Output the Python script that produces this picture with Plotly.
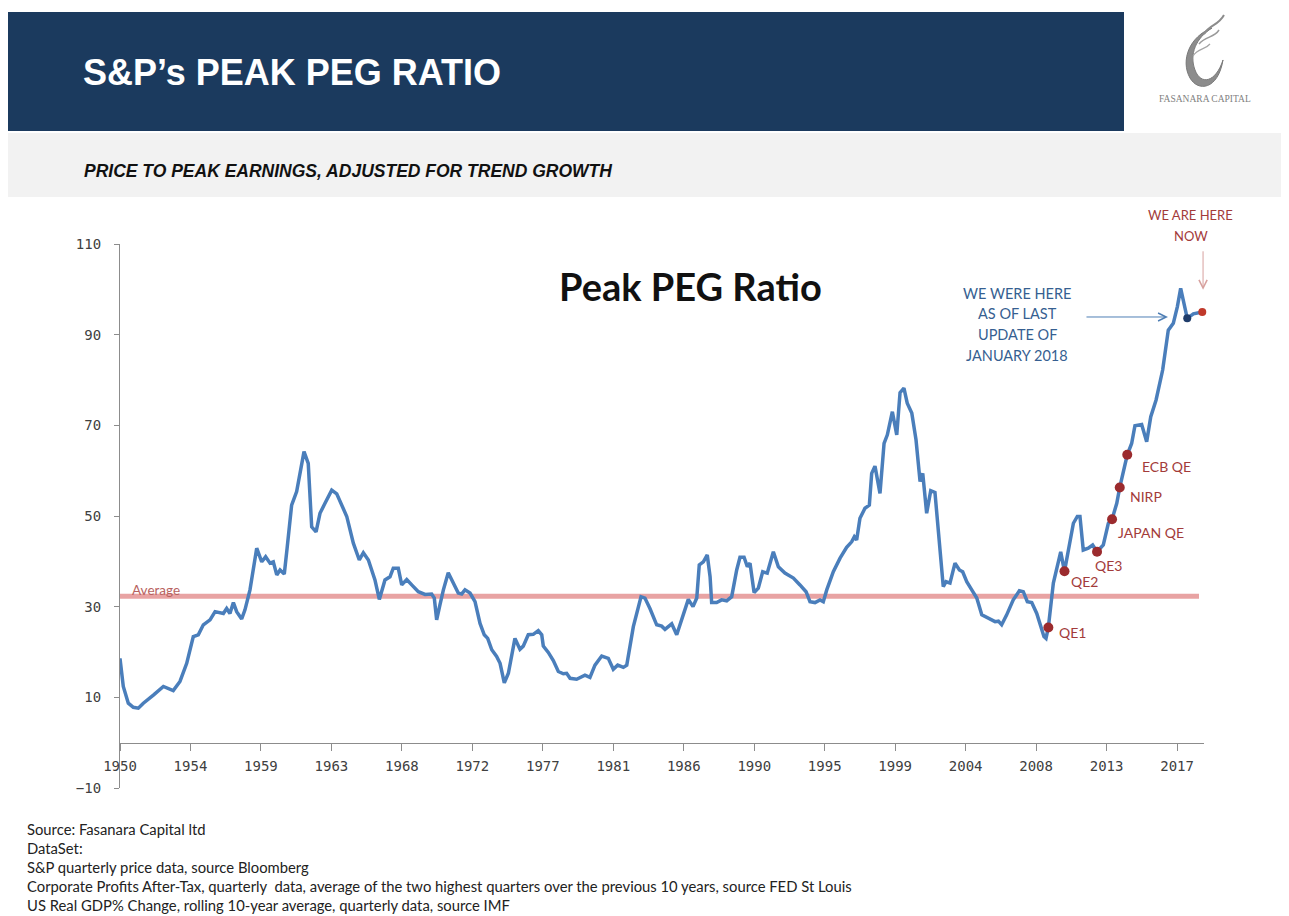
import plotly.graph_objects as go

# ---------------- data ----------------
years = [
    1950.00, 1950.21, 1950.53, 1950.85, 1951.17, 1951.49, 1952.13, 1952.77, 1953.40, 1953.83,
    1954.26, 1954.68, 1955.00, 1955.32, 1955.75, 1956.07, 1956.60, 1956.81, 1957.02, 1957.24,
    1957.45, 1957.77, 1957.98, 1958.30, 1958.73, 1959.05, 1959.30, 1959.58, 1959.79, 1960.01,
    1960.22, 1960.49, 1960.68, 1960.96, 1961.28, 1961.75, 1962.02, 1962.24, 1962.52, 1962.77,
    1963.09, 1963.52, 1963.84, 1964.48, 1964.90, 1965.28, 1965.54, 1965.86, 1966.28, 1966.56,
    1966.92, 1967.24, 1967.45, 1967.77, 1967.99, 1968.31, 1968.63, 1969.05, 1969.48, 1969.90,
    1970.07, 1970.22, 1970.43, 1970.65, 1970.96, 1971.28, 1971.60, 1971.82, 1972.03, 1972.35,
    1972.67, 1972.99, 1973.26, 1973.48, 1973.74, 1974.05, 1974.27, 1974.54, 1974.80, 1975.22,
    1975.54, 1975.75, 1976.07, 1976.39, 1976.71, 1976.93, 1977.03, 1977.35, 1977.67, 1977.99,
    1978.31, 1978.52, 1978.74, 1979.16, 1979.48, 1979.69, 1980.01, 1980.33, 1980.76, 1981.18,
    1981.50, 1981.78, 1982.14, 1982.36, 1982.78, 1983.27, 1983.52, 1983.84, 1984.27, 1984.59,
    1984.80, 1985.23, 1985.55, 1985.87, 1986.29, 1986.59, 1986.83, 1986.99, 1987.25, 1987.50,
    1987.68, 1987.78, 1988.10, 1988.42, 1988.74, 1989.06, 1989.38, 1989.59, 1989.85, 1990.06,
    1990.23, 1990.49, 1990.76, 1991.04, 1991.33, 1991.72, 1992.04, 1992.46, 1993.00, 1993.42,
    1993.81, 1994.06, 1994.38, 1994.70, 1994.91, 1995.13, 1995.55, 1995.98, 1996.40, 1996.72,
    1996.89, 1997.04, 1997.25, 1997.57, 1997.85, 1998.00, 1998.21, 1998.53, 1998.79, 1999.00,
    1999.32, 1999.60, 1999.81, 2000.06, 2000.27, 2000.56, 2000.83, 2001.09, 2001.26, 2001.51,
    2001.77, 2002.04, 2002.25, 2002.57, 2002.75, 2003.00, 2003.32, 2003.60, 2003.81, 2004.07,
    2004.39, 2004.71, 2005.03, 2005.45, 2005.88, 2006.09, 2006.30, 2006.62, 2007.04, 2007.43,
    2007.68, 2007.94, 2008.22, 2008.54, 2008.75, 2009.00, 2009.13, 2009.28, 2009.60, 2009.92,
    2010.07, 2010.31, 2010.56, 2010.88, 2011.13, 2011.30, 2011.51, 2011.83, 2012.11, 2012.39,
    2012.79, 2013.11, 2013.35, 2013.65, 2013.84, 2014.32, 2014.60, 2014.81, 2015.24, 2015.56,
    2015.82, 2016.16, 2016.58, 2016.94, 2017.26, 2017.52, 2017.73, 2017.94, 2018.15, 2018.54,
    2018.86, 2019.11,
]

peg_ratio = [
    18.6, 12.4, 8.7, 7.8, 7.6, 8.7, 10.5, 12.4, 11.5, 13.5,
    17.5, 23.4, 23.8, 26.0, 27.1, 28.9, 28.5, 29.6, 28.5, 30.9,
    28.9, 27.3, 29.3, 33.7, 42.9, 39.9, 41.0, 39.6, 39.9, 37.0,
    38.1, 37.2, 43.2, 52.4, 55.4, 64.2, 61.6, 47.6, 46.5, 50.6,
    52.8, 55.7, 54.9, 49.9, 44.0, 40.3, 41.9, 40.3, 35.9, 31.6,
    35.9, 36.6, 38.5, 38.5, 34.8, 36.0, 34.8, 33.3, 32.7, 32.8,
    31.9, 27.1, 30.4, 33.7, 37.5, 35.2, 33.0, 32.8, 33.7, 33.0,
    31.1, 26.3, 23.8, 23.0, 20.5, 19.0, 17.5, 13.2, 15.3, 23.0,
    20.6, 21.3, 23.8, 23.9, 24.7, 23.8, 21.3, 19.9, 18.1, 15.7,
    15.2, 15.3, 14.2, 14.0, 14.6, 14.9, 14.4, 17.1, 19.1, 18.6,
    16.2, 17.1, 16.6, 17.1, 25.6, 32.2, 31.9, 29.6, 26.0, 25.7,
    25.0, 26.2, 23.8, 27.1, 31.6, 30.0, 31.9, 39.2, 39.9, 41.4,
    36.6, 30.9, 30.9, 31.5, 31.3, 32.2, 38.1, 40.9, 40.9, 38.8,
    39.6, 33.1, 34.1, 37.7, 37.4, 42.1, 38.8, 37.4, 36.3, 34.8,
    33.3, 31.1, 30.9, 31.5, 31.1, 33.7, 37.7, 40.7, 43.1, 44.3,
    45.4, 44.7, 49.5, 51.7, 52.4, 59.4, 61.0, 55.0, 66.0, 67.9,
    73.0, 67.9, 77.2, 78.2, 74.9, 72.7, 66.8, 57.6, 59.4, 50.6,
    55.6, 55.2, 46.9, 34.4, 35.5, 35.2, 39.6, 38.1, 37.7, 35.5,
    33.7, 31.9, 28.2, 27.4, 26.7, 26.8, 26.0, 28.2, 31.5, 33.5,
    33.3, 31.1, 30.9, 28.5, 26.0, 23.4, 23.0, 25.4, 35.2, 39.6,
    42.1, 37.8, 42.5, 48.4, 49.9, 49.9, 42.5, 42.9, 43.6, 42.1,
    43.6, 48.4, 49.3, 52.8, 56.3, 63.5, 66.0, 69.9, 70.2, 66.4,
    71.9, 75.6, 82.2, 91.0, 92.5, 96.2, 100.2, 96.9, 93.6, 94.6,
    94.9, 95.0,
]

average_value = 32.3

event_names = ["QE1", "QE2", "QE3", "JAPAN QE", "NIRP", "ECB QE"]
event_years = [2009.28, 2010.31, 2012.39, 2013.35, 2013.84, 2014.32]
event_values = [25.4, 37.8, 42.1, 49.3, 56.3, 63.5]
# label offsets in pixels (dx, dy) relative to the event dot
event_label_dx = [9, 5, -4, 4, 8, 13]
event_label_dy = [-5, -10, -14, -13, -9, -12]

last_update_year, last_update_value = 2018.15, 93.6
now_year, now_value = 2019.11, 95.0
arrow_tip_year, arrow_tip_value = 2016.92, 93.9

x_tick_years = [1950 + 4.5 * k for k in range(16)]
x_tick_labels = ["1950", "1954", "1959", "1963", "1968", "1972", "1977", "1981",
                 "1986", "1990", "1995", "1999", "2004", "2008", "2013", "2017"]
y_ticks = [-10, 10, 30, 50, 70, 90, 110]
x_range = [1950, 2019.22]
y_range = [-10, 110]

footer_lines = [
    "Source: Fasanara Capital ltd",
    "DataSet:",
    "S&P quarterly price data, source Bloomberg",
    "Corporate Profits After-Tax, quarterly  data, average of the two highest quarters over the previous 10 years, source FED St Louis",
    "US Real GDP% Change, rolling 10-year average, quarterly data, source IMF",
]

# ---------------- layout geometry (pixels, in the 1289x916 window frame) ----------------
W, H = 1289, 916
OFF = 8  # the page body adds an 8px margin around the figure
PL, PR, PT, PB = 120, 1204, 244, 788


def px(x):
    return (x - PL) / (PR - PL)


def py(y):
    return (PB - y) / (PB - PT)


def path_from_px(cmds):
    parts = []
    for c, pts in cmds:
        s = " ".join(f"{px(a):.5f},{py(b):.5f}" for a, b in pts)
        parts.append(f"{c} {s}".strip())
    return " ".join(parts)


BLUE = "#4A7EBB"
DARKRED = "#9B2B2E"
LABELRED = "#A33B3A"
TEXTBLUE = "#365F91"
SANS = "Lato, Open Sans, sans-serif"

fig = go.Figure()

fig.add_trace(go.Scatter(
    x=[x_range[0], 2018.9], y=[average_value, average_value], mode="lines",
    line=dict(color="#E8A3A3", width=5), hoverinfo="skip", showlegend=False))

fig.add_trace(go.Scatter(
    x=years, y=peg_ratio, mode="lines", line=dict(color=BLUE, width=3.5),
    name="Peak PEG Ratio", showlegend=False))

fig.add_trace(go.Scatter(
    x=event_years, y=event_values, mode="markers",
    marker=dict(color=DARKRED, size=10), showlegend=False))

fig.add_trace(go.Scatter(
    x=[last_update_year], y=[last_update_value], mode="markers",
    marker=dict(color="#1F3D6B", size=8), showlegend=False))

fig.add_trace(go.Scatter(
    x=[now_year], y=[now_value], mode="markers",
    marker=dict(color="#C0392B", size=8), showlegend=False, cliponaxis=False))

shapes = [
    dict(type="rect", xref="paper", yref="paper", x0=px(-2), x1=px(W + 2), y0=py(197), y1=py(133),
         fillcolor="#F2F2F2", line=dict(width=0), layer="below"),
    dict(type="rect", xref="paper", yref="paper", x0=px(5), x1=px(1124), y0=py(131), y1=py(12),
         fillcolor="#1B3A5E", line=dict(width=0), layer="below"),
    # logo swirl
    dict(type="path", xref="paper", yref="paper", layer="above",
         path=path_from_px([
             ("M", [(1212, 28)]),
             ("C", [(1190, 36), (1180, 60), (1190, 78)]),
             ("C", [(1198, 92), (1218, 90), (1223, 60)]),
             ("C", [(1216, 82), (1201, 86), (1195, 70)]),
             ("C", [(1189, 54), (1196, 38), (1212, 28)]),
             ("Z", []),
         ]),
         fillcolor="#8C8C8C", line=dict(color="#7A7A7A", width=1)),
    dict(type="path", xref="paper", yref="paper",
         path=path_from_px([("M", [(1204, 34)]), ("C", [(1210, 24), (1218, 26), (1224, 15)])]),
         line=dict(color="#8C8C8C", width=2)),
    dict(type="path", xref="paper", yref="paper",
         path=path_from_px([("M", [(1199, 44)]), ("C", [(1206, 36), (1214, 38), (1219, 30)])]),
         line=dict(color="#9A9A9A", width=1.5)),
    dict(type="path", xref="paper", yref="paper",
         path=path_from_px([("M", [(1193, 56)]), ("C", [(1198, 48), (1205, 50), (1210, 44)])]),
         line=dict(color="#A5A5A5", width=1.2)),
]

annotations = []


def txt(x, y, text, size, color, family, xanchor="left", yanchor="middle", **kw):
    annotations.append(dict(x=px(x), y=py(y), xref="paper", yref="paper", text=text,
                            showarrow=False, xanchor=xanchor, yanchor=yanchor,
                            font=dict(size=size, color=color, family=family), **kw))


# header texts
txt(81, 73, "<b>S&P’s PEAK PEG RATIO</b>", 36, "white",
    "Liberation Sans Narrow, Arial Narrow, Liberation Sans, Arial")
txt(82, 171, "<b><i>PRICE TO PEAK EARNINGS, ADJUSTED FOR TREND GROWTH</i></b>", 17.5, "#111111",
    "Liberation Sans Narrow, Arial Narrow, Liberation Sans, Arial")
txt(1205, 99, "FASANARA CAPITAL", 9.5, "#7F7F7F", "Liberation Serif, DejaVu Serif", xanchor="center")

# chart title
txt(690, 286, "<b>Peak PEG Ratio</b>", 38, "#111111", SANS, xanchor="center")

# average label
txt(130, 590, "Average", 13.5, "#B8625E", SANS)

# annotation texts
for i, line in enumerate(["WE WERE HERE", "AS OF LAST", "UPDATE OF", "JANUARY 2018"]):
    txt(1017, 293 + i * 20.7, line, 14.5, TEXTBLUE, SANS, xanchor="center")
txt(1190, 215, "WE ARE HERE", 13, LABELRED, SANS, xanchor="center")
txt(1191, 236, "NOW", 13, LABELRED, SANS, xanchor="center")

# event labels (anchored to the data points)
for name, ex, ev, dx, dy in zip(event_names, event_years, event_values, event_label_dx, event_label_dy):
    annotations.append(dict(x=ex, y=ev, xref="x", yref="y", text=name, showarrow=False,
                            xanchor="left", yanchor="middle", xshift=dx, yshift=dy,
                            font=dict(size=14, color=LABELRED, family=SANS)))

# arrows
annotations.append(dict(x=arrow_tip_year, y=arrow_tip_value, xref="x", yref="y", text="",
                        showarrow=True, ax=-83, ay=0, arrowhead=5, arrowsize=1.6, arrowwidth=1,
                        arrowcolor="#4F7FB5"))
annotations.append(dict(x=now_year + 0.05, y=99.9, xref="x", yref="y", text="",
                        showarrow=True, ax=0, ay=-40, arrowhead=5, arrowsize=1.6, arrowwidth=1,
                        arrowcolor="#D7A19E"))

# footer
for i, line in enumerate(footer_lines):
    txt(25, 829 + i * 19, line, 14.8, "#222222", SANS)

tick_font = dict(family="DejaVu Sans Mono, monospace", size=14, color="#404040")

fig.update_layout(
    width=W - OFF, height=H - OFF,
    margin=dict(l=PL - OFF, r=W - PR, t=PT - OFF, b=H - PB, autoexpand=False),
    paper_bgcolor="white", plot_bgcolor="white", showlegend=False,
    xaxis=dict(range=x_range, tickmode="array", tickvals=x_tick_years, ticktext=x_tick_labels,
               ticks="outside", ticklen=7, tickcolor="#8C8C8C", tickwidth=1,
               showline=True, linecolor="#8C8C8C", linewidth=1.2,
               showgrid=False, zeroline=False, anchor="free",
               position=(0 - y_range[0]) / (y_range[1] - y_range[0]),
               tickfont=tick_font, ticklabelstandoff=3),
    yaxis=dict(range=y_range, tickmode="array", tickvals=y_ticks,
               ticks="outside", ticklen=5, tickcolor="#8C8C8C", tickwidth=1,
               showline=True, linecolor="#8C8C8C", linewidth=1.2,
               showgrid=False, zeroline=False, tickfont=tick_font, ticklabelstandoff=10),
    shapes=shapes,
    annotations=annotations,
)

fig.write_html("out.html")
